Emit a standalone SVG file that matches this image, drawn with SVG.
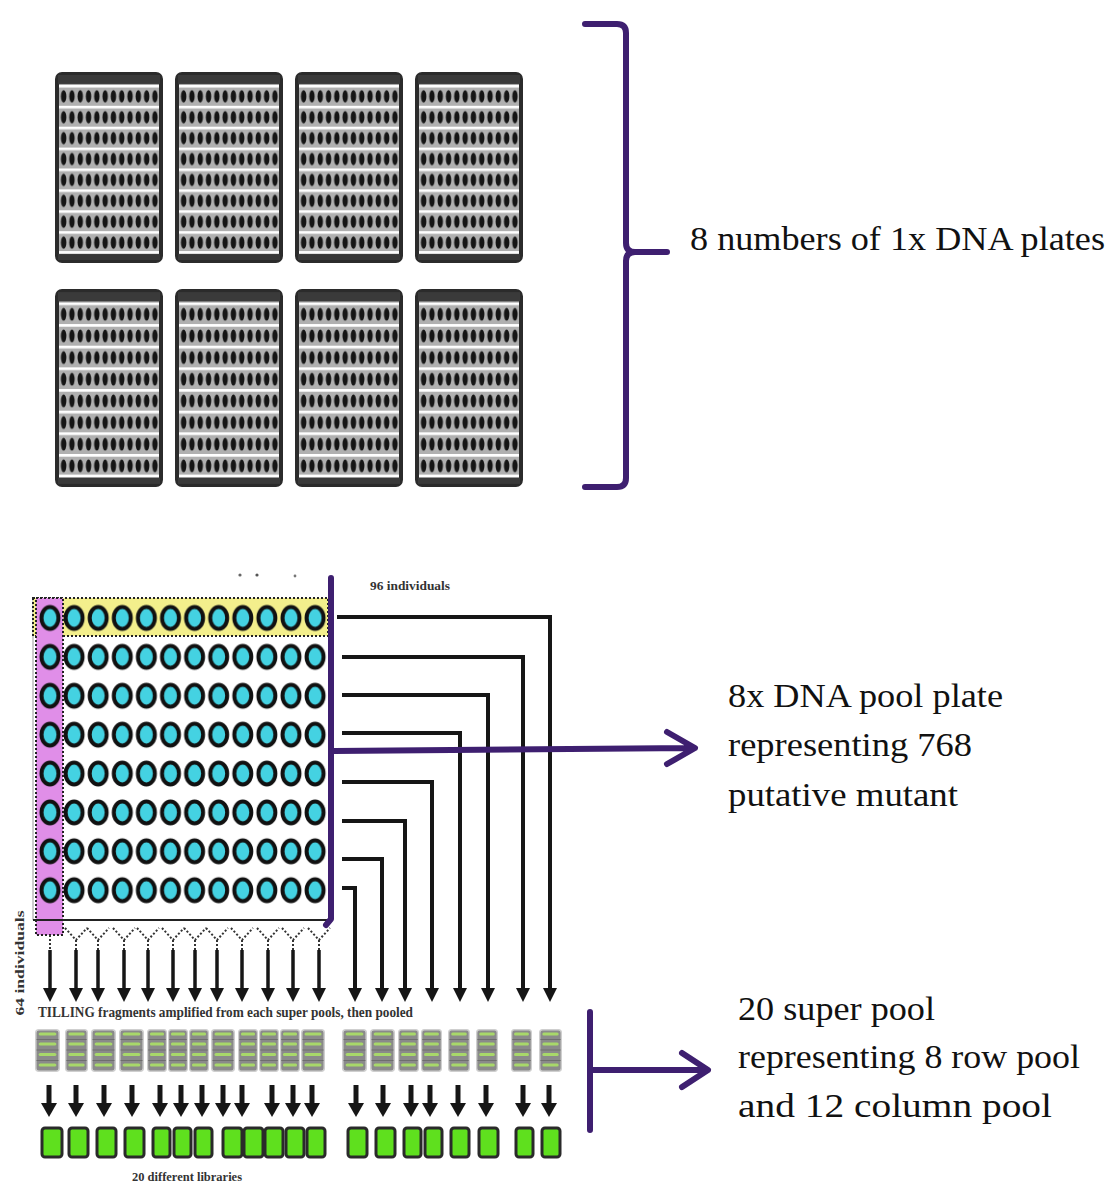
<svg xmlns="http://www.w3.org/2000/svg" xmlns:xlink="http://www.w3.org/1999/xlink" width="1112" height="1187" viewBox="0 0 1112 1187">
<style>
.lbl{font-family:"Liberation Serif",serif;font-size:34px;fill:#111}
.sm{font-family:"Liberation Serif",serif;font-weight:bold;fill:#333}
.conn{fill:none;stroke:#161616;stroke-width:4;stroke-linejoin:miter}
.purple{fill:none;stroke:#3e1f70;stroke-width:6;stroke-linecap:round;stroke-linejoin:round}
.yshape{fill:none;stroke:#333;stroke-width:2;stroke-dasharray:2 2}
.stem{fill:none;stroke:#161616;stroke-width:3.5}
.stem2{fill:none;stroke:#161616;stroke-width:5}
.sp{fill:#8a8a8a;stroke:#cfcfcf;stroke-width:1.5}
.lib{fill:#5fe01e;stroke:#2a2a2a;stroke-width:3}
</style>
<defs>
<pattern id="wells" patternUnits="userSpaceOnUse" x="4.5" y="13" width="8.3" height="21">
<rect width="8.3" height="21" fill="#b0b0b0"/>
<rect width="8.3" height="2.6" fill="#ffffff"/>
<ellipse cx="4.15" cy="11.5" rx="2.7" ry="6.2" fill="#151515"/>
</pattern>
<symbol id="plate" viewBox="0 0 108 192" preserveAspectRatio="none">
<rect x="2" y="2" width="104" height="188" rx="5" fill="#a8a8a8" stroke="#2b2b2b" stroke-width="4"/>
<rect x="3" y="3" width="102" height="9" fill="#3a3a3a"/>
<rect x="4" y="13" width="100" height="168" fill="url(#wells)"/>
<rect x="4" y="180" width="100" height="2.6" fill="#ffffff"/>
<rect x="3" y="183" width="102" height="6" fill="#3a3a3a"/>
</symbol>
<pattern id="grid" patternUnits="userSpaceOnUse" x="38" y="598.5" width="24.1" height="38.9">
<ellipse cx="12" cy="19.5" rx="8.5" ry="11" fill="#44d2e2" stroke="#111" stroke-width="4"/>
</pattern>
<marker id="ah" viewBox="0 0 14 14" refX="4" refY="7" markerWidth="14" markerHeight="14" markerUnits="userSpaceOnUse" orient="auto">
<path d="M0,0 L14,7 L0,14 z" fill="#161616"/>
</marker>
<marker id="ah2" viewBox="0 0 14 16" refX="3" refY="8" markerWidth="14" markerHeight="16" markerUnits="userSpaceOnUse" orient="auto">
<path d="M0,0 L14,8 L0,16 z" fill="#161616"/>
</marker>
<symbol id="spool" viewBox="0 0 24 43" preserveAspectRatio="none">
<rect x="0.75" y="0.75" width="22.5" height="41.5" rx="3" class="sp"/>
<rect x="3.5" y="3.5" width="17" height="3" rx="1.5" fill="#a8d86a"/>
<rect x="3.5" y="13.5" width="17" height="3" rx="1.5" fill="#a8d86a"/>
<rect x="3.5" y="24" width="17" height="3" rx="1.5" fill="#a8d86a"/>
<rect x="3.5" y="34.5" width="17" height="3" rx="1.5" fill="#a8d86a"/>
<rect x="1.5" y="10" width="21" height="1" fill="#6e6e6e"/>
<rect x="1.5" y="20.5" width="21" height="1" fill="#6e6e6e"/>
<rect x="1.5" y="31" width="21" height="1" fill="#6e6e6e"/>
</symbol>
</defs>
<rect width="1112" height="1187" fill="#ffffff"/>

<g id="plates-1x">
<use href="#plate" x="55" y="72" width="108" height="191"/>
<use href="#plate" x="175" y="72" width="108" height="191"/>
<use href="#plate" x="295" y="72" width="108" height="191"/>
<use href="#plate" x="415" y="72" width="108" height="191"/>
<use href="#plate" x="55" y="289" width="108" height="198"/>
<use href="#plate" x="175" y="289" width="108" height="198"/>
<use href="#plate" x="295" y="289" width="108" height="198"/>
<use href="#plate" x="415" y="289" width="108" height="198"/>
</g>

<g id="label-1x">
<text class="lbl" x="690" y="250" textLength="415" lengthAdjust="spacingAndGlyphs">8 numbers of 1x DNA plates</text>
</g>

<g id="pool-plate">
<line x1="33" y1="598" x2="33" y2="920" stroke="#bdbdbd" stroke-width="1.5"/>
<rect x="33" y="598" width="295" height="38" fill="#f3ef8c" stroke="#222" stroke-width="2" stroke-dasharray="2 2"/>
<rect x="36" y="598" width="27" height="337" fill="#e08ee8" stroke="#222" stroke-width="2" stroke-dasharray="2 2"/>
<rect x="38" y="598.5" width="289.2" height="311.2" fill="url(#grid)"/>
<line x1="33" y1="920" x2="331" y2="920" stroke="#222" stroke-width="2"/>
<circle cx="240" cy="575" r="1.6" fill="#666"/>
<circle cx="257" cy="575" r="1.6" fill="#555"/>
<circle cx="295" cy="576" r="1.4" fill="#777"/>
<text class="sm" x="370" y="590" font-size="13" textLength="80" lengthAdjust="spacingAndGlyphs">96 individuals</text>
<text class="sm" font-size="13" transform="translate(24,963) rotate(-90)" text-anchor="middle" textLength="105" lengthAdjust="spacingAndGlyphs">64 individuals</text>
</g>

<g id="label-pool">
<text class="lbl" x="728" y="707" textLength="275" lengthAdjust="spacingAndGlyphs">8x DNA pool plate</text>
<text class="lbl" x="728" y="756" textLength="244" lengthAdjust="spacingAndGlyphs">representing 768</text>
<text class="lbl" x="728" y="806" textLength="230" lengthAdjust="spacingAndGlyphs">putative mutant</text>
</g>

<g id="connectors">
<path class="purple" d="M585,24 L617,24 Q626,24 626,33 L626,243 Q626,252 635,252 L667,252 M635,252 Q626,252 626,261 L626,478 Q626,487 617,487 L585,487"/>
<path class="purple" d="M331,578 L331,919 L326,925"/>
<path class="conn" d="M337,617 H550 V992" marker-end="url(#ah)"/>
<path class="conn" d="M342,657 H523 V992" marker-end="url(#ah)"/>
<path class="conn" d="M342,695 H488 V992" marker-end="url(#ah)"/>
<path class="conn" d="M342,733 H460 V992" marker-end="url(#ah)"/>
<path class="conn" d="M342,782 H432 V992" marker-end="url(#ah)"/>
<path class="conn" d="M342,821 H405 V992" marker-end="url(#ah)"/>
<path class="conn" d="M342,859 H382 V992" marker-end="url(#ah)"/>
<path class="conn" d="M342,888 H355 V992" marker-end="url(#ah)"/>
<path class="purple" d="M334,751 L692,748 M667,732 L695,748 L667,764"/>
<g id="y-connectors">
<path class="yshape" d="M50,935 V950"/>
<path class="yshape" d="M65,928 L76,940 L87,928 M76,940 V950"/>
<path class="yshape" d="M87,928 L98,940 L109,928 M98,940 V950"/>
<path class="yshape" d="M113,928 L124,940 L135,928 M124,940 V950"/>
<path class="yshape" d="M137,928 L148,940 L159,928 M148,940 V950"/>
<path class="yshape" d="M162,928 L173,940 L184,928 M173,940 V950"/>
<path class="yshape" d="M184,928 L195,940 L206,928 M195,940 V950"/>
<path class="yshape" d="M206,928 L217,940 L228,928 M217,940 V950"/>
<path class="yshape" d="M231,928 L242,940 L253,928 M242,940 V950"/>
<path class="yshape" d="M257,928 L268,940 L279,928 M268,940 V950"/>
<path class="yshape" d="M282,928 L293,940 L304,928 M293,940 V950"/>
<path class="yshape" d="M308,928 L319,940 L330,928 M319,940 V950"/>
</g>
<g id="col-arrows">
<path class="stem" d="M50,950 V992" marker-end="url(#ah)"/>
<path class="stem" d="M76,950 V992" marker-end="url(#ah)"/>
<path class="stem" d="M98,950 V992" marker-end="url(#ah)"/>
<path class="stem" d="M124,950 V992" marker-end="url(#ah)"/>
<path class="stem" d="M148,950 V992" marker-end="url(#ah)"/>
<path class="stem" d="M173,950 V992" marker-end="url(#ah)"/>
<path class="stem" d="M195,950 V992" marker-end="url(#ah)"/>
<path class="stem" d="M217,950 V992" marker-end="url(#ah)"/>
<path class="stem" d="M242,950 V992" marker-end="url(#ah)"/>
<path class="stem" d="M268,950 V992" marker-end="url(#ah)"/>
<path class="stem" d="M293,950 V992" marker-end="url(#ah)"/>
<path class="stem" d="M319,950 V992" marker-end="url(#ah)"/>
</g>
<g id="lib-arrows">
<path class="stem2" d="M49,1085 V1106" marker-end="url(#ah2)"/>
<path class="stem2" d="M76,1085 V1106" marker-end="url(#ah2)"/>
<path class="stem2" d="M104,1085 V1106" marker-end="url(#ah2)"/>
<path class="stem2" d="M132,1085 V1106" marker-end="url(#ah2)"/>
<path class="stem2" d="M160,1085 V1106" marker-end="url(#ah2)"/>
<path class="stem2" d="M181,1085 V1106" marker-end="url(#ah2)"/>
<path class="stem2" d="M202,1085 V1106" marker-end="url(#ah2)"/>
<path class="stem2" d="M223,1085 V1106" marker-end="url(#ah2)"/>
<path class="stem2" d="M242,1085 V1106" marker-end="url(#ah2)"/>
<path class="stem2" d="M272,1085 V1106" marker-end="url(#ah2)"/>
<path class="stem2" d="M293,1085 V1106" marker-end="url(#ah2)"/>
<path class="stem2" d="M312,1085 V1106" marker-end="url(#ah2)"/>
<path class="stem2" d="M356,1085 V1106" marker-end="url(#ah2)"/>
<path class="stem2" d="M383,1085 V1106" marker-end="url(#ah2)"/>
<path class="stem2" d="M411,1085 V1106" marker-end="url(#ah2)"/>
<path class="stem2" d="M430,1085 V1106" marker-end="url(#ah2)"/>
<path class="stem2" d="M458,1085 V1106" marker-end="url(#ah2)"/>
<path class="stem2" d="M486,1085 V1106" marker-end="url(#ah2)"/>
<path class="stem2" d="M523,1085 V1106" marker-end="url(#ah2)"/>
<path class="stem2" d="M549,1085 V1106" marker-end="url(#ah2)"/>
</g>
<path class="purple" d="M590,1012 L590,1130 M590,1070 L706,1070 M682,1053 L708,1070 L682,1087"/>
</g>

<g id="tilling-label">
<text class="sm" x="38" y="1017" font-size="14" textLength="375" lengthAdjust="spacingAndGlyphs">TILLING fragments amplified from each super pools, then pooled</text>
</g>

<g id="super-pools">
<use href="#spool" x="35" y="1029" width="25" height="43"/>
<use href="#spool" x="65" y="1029" width="23" height="43"/>
<use href="#spool" x="91" y="1029" width="25" height="43"/>
<use href="#spool" x="119" y="1029" width="25" height="43"/>
<use href="#spool" x="147" y="1029" width="20" height="43"/>
<use href="#spool" x="168" y="1029" width="20" height="43"/>
<use href="#spool" x="189" y="1029" width="20" height="43"/>
<use href="#spool" x="211" y="1029" width="24" height="43"/>
<use href="#spool" x="238" y="1029" width="20" height="43"/>
<use href="#spool" x="259" y="1029" width="20" height="43"/>
<use href="#spool" x="280" y="1029" width="20" height="43"/>
<use href="#spool" x="301" y="1029" width="24" height="43"/>
<use href="#spool" x="342" y="1029" width="25" height="43"/>
<use href="#spool" x="370" y="1029" width="25" height="43"/>
<use href="#spool" x="398" y="1029" width="21" height="43"/>
<use href="#spool" x="421" y="1029" width="21" height="43"/>
<use href="#spool" x="448" y="1029" width="22" height="43"/>
<use href="#spool" x="476" y="1029" width="22" height="43"/>
<use href="#spool" x="511" y="1029" width="21" height="43"/>
<use href="#spool" x="539" y="1029" width="23" height="43"/>
</g>

<g id="libraries">
<rect class="lib" x="42" y="1128" width="20" height="29" rx="3"/>
<rect class="lib" x="69" y="1128" width="19" height="29" rx="3"/>
<rect class="lib" x="97" y="1128" width="19" height="29" rx="3"/>
<rect class="lib" x="125" y="1128" width="19" height="29" rx="3"/>
<rect class="lib" x="153" y="1128" width="17" height="29" rx="3"/>
<rect class="lib" x="174" y="1128" width="17" height="29" rx="3"/>
<rect class="lib" x="195" y="1128" width="17" height="29" rx="3"/>
<rect class="lib" x="223" y="1128" width="19" height="29" rx="3"/>
<rect class="lib" x="244" y="1128" width="19" height="29" rx="3"/>
<rect class="lib" x="265" y="1128" width="18" height="29" rx="3"/>
<rect class="lib" x="286" y="1128" width="18" height="29" rx="3"/>
<rect class="lib" x="307" y="1128" width="18" height="29" rx="3"/>
<rect class="lib" x="348" y="1128" width="19" height="29" rx="3"/>
<rect class="lib" x="376" y="1128" width="19" height="29" rx="3"/>
<rect class="lib" x="404" y="1128" width="17" height="29" rx="3"/>
<rect class="lib" x="425" y="1128" width="17" height="29" rx="3"/>
<rect class="lib" x="451" y="1128" width="18" height="29" rx="3"/>
<rect class="lib" x="479" y="1128" width="19" height="29" rx="3"/>
<rect class="lib" x="516" y="1128" width="17" height="29" rx="3"/>
<rect class="lib" x="542" y="1128" width="18" height="29" rx="3"/>
<text class="sm" x="132" y="1181" font-size="13" textLength="110" lengthAdjust="spacingAndGlyphs">20 different libraries</text>
</g>

<g id="label-superpool">
<text class="lbl" x="738" y="1020" textLength="197" lengthAdjust="spacingAndGlyphs">20 super pool</text>
<text class="lbl" x="738" y="1068" textLength="342" lengthAdjust="spacingAndGlyphs">representing 8 row pool</text>
<text class="lbl" x="738" y="1117" textLength="314" lengthAdjust="spacingAndGlyphs">and 12 column pool</text>
</g>
</svg>
